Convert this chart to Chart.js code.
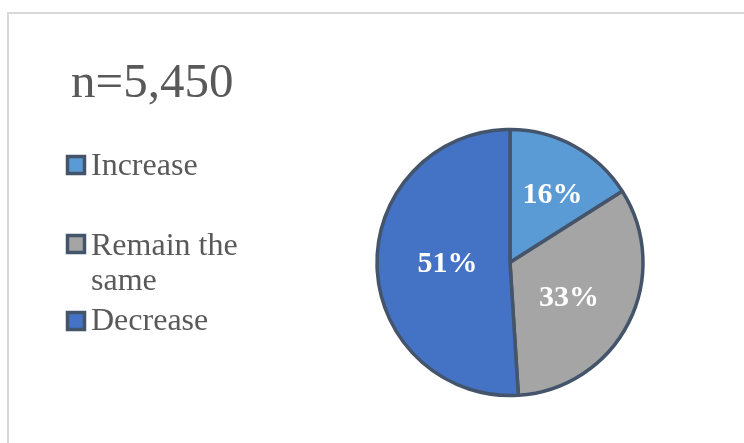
<!DOCTYPE html>
<html>
<head>
<meta charset="utf-8">
<title>Expected change</title>
<script src="https://cdn.jsdelivr.net/npm/chart.js@4.4.1/dist/chart.umd.min.js"></script>
<style>
  html, body { margin: 0; padding: 0; background: #fff; }
  #wrap { position: relative; width: 744px; height: 443px; }
</style>
</head>
<body>
<div id="wrap"><canvas id="change-pie" width="744" height="443"></canvas></div>
<script>
const sampleLabel = "n=5,450";
const categories = ["Increase", ["Remain the", "same"], "Decrease"];
const shares = [16, 33, 51];
const sliceColors = ["#5b9bd5", "#a5a5a5", "#4472c4"];
const edgeColor = "#44546a";

const serif = "'Liberation Serif', 'Times New Roman', serif";

// frame, sample size and left-hand key
const decorPlugin = {
  id: "decor",
  beforeDraw(chart) {
    const ctx = chart.ctx;
    ctx.save();
    ctx.fillStyle = "#fff";
    ctx.fillRect(0, 0, chart.width, chart.height);
    ctx.strokeStyle = "#d9d9d9";
    ctx.lineWidth = 2;
    ctx.beginPath();
    ctx.moveTo(8, chart.height + 5);
    ctx.lineTo(8, 13);
    ctx.lineTo(chart.width + 5, 13);
    ctx.stroke();
    ctx.restore();
  },
  afterDraw(chart) {
    const ctx = chart.ctx;
    ctx.save();
    ctx.fillStyle = "#595959";
    ctx.textBaseline = "alphabetic";
    ctx.font = "49px " + serif;
    ctx.fillText(sampleLabel, 71, 97);

    // key rows: marker centre y and first baseline
    const rows = [
      { box: 165, base: 175 },
      { box: 244, base: 255 },
      { box: 321, base: 330 }
    ];
    ctx.font = "32px " + serif;
    categories.forEach((label, i) => {
      const r = rows[i];
      ctx.fillStyle = sliceColors[i];
      ctx.strokeStyle = edgeColor;
      ctx.lineWidth = 3.5;
      ctx.fillRect(67.5, r.box - 8.5, 17, 17);
      ctx.strokeRect(67.5, r.box - 8.5, 17, 17);
      ctx.fillStyle = "#595959";
      const lines = Array.isArray(label) ? label : [label];
      lines.forEach((line, j) => ctx.fillText(line, 91, r.base + j * 35));
    });
    ctx.restore();
  }
};

// percentage text inside each slice
const sliceLabelPlugin = {
  id: "sliceLabels",
  afterDatasetsDraw(chart) {
    const ctx = chart.ctx;
    const meta = chart.getDatasetMeta(0);
    const fractions = [0.6, 0.52, 0.47];
    const shifts = [0.06, 0.08, 0];
    ctx.save();
    ctx.fillStyle = "#fff";
    ctx.font = "bold 30px " + serif;
    ctx.textAlign = "center";
    ctx.textBaseline = "middle";
    meta.data.forEach((arc, i) => {
      const p = arc.getProps(["x", "y", "startAngle", "endAngle", "outerRadius"], true);
      const mid = (p.startAngle + p.endAngle) / 2 + shifts[i];
      const r = p.outerRadius * fractions[i];
      ctx.fillText(shares[i] + "%", p.x + Math.cos(mid) * r, p.y + Math.sin(mid) * r);
    });
    ctx.restore();
  }
};

new Chart(document.getElementById("change-pie"), {
  type: "pie",
  data: {
    labels: categories.map(c => Array.isArray(c) ? c.join(" ") : c),
    datasets: [{
      data: shares,
      backgroundColor: sliceColors,
      borderColor: edgeColor,
      borderWidth: 3.5
    }]
  },
  options: {
    responsive: false,
    animation: false,
    radius: 133,
    layout: { padding: { left: 370, right: 94, top: 122, bottom: 40 } },
    plugins: {
      legend: { display: false },
      title: { display: false },
      tooltip: { enabled: false }
    }
  },
  plugins: [decorPlugin, sliceLabelPlugin]
});
</script>
</body>
</html>
